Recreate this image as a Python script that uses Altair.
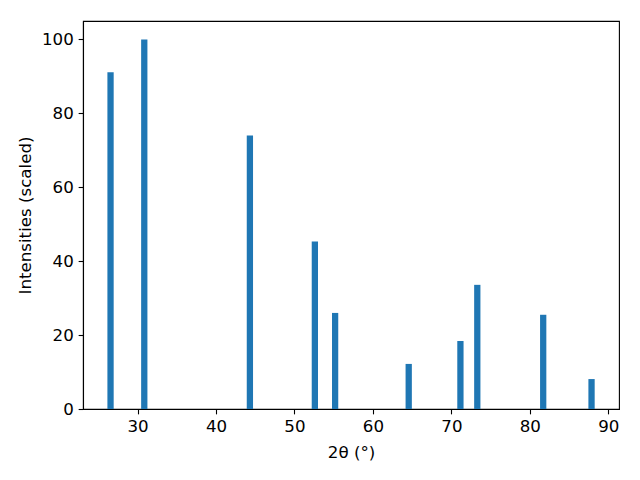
import altair as alt
import pandas as pd

# Peak positions (2θ, degrees) and scaled intensities
two_theta = [26.56, 30.86, 44.32, 52.60, 55.18, 64.56, 71.15, 73.30, 81.70, 87.86]
intensity = [91.1, 100.0, 74.0, 45.3, 26.0, 12.2, 18.4, 33.6, 25.5, 8.1]
x_ticks = [30, 40, 50, 60, 70, 80, 90]
y_ticks = [0, 20, 40, 60, 80, 100]
bar_width = 0.8

df = pd.DataFrame({"two_theta": two_theta, "intensity": intensity})

chart = (
    alt.Chart(df)
    .transform_calculate(
        x0=f"datum.two_theta - {bar_width / 2}",
        x1=f"datum.two_theta + {bar_width / 2}",
    )
    .mark_rect(color="#1f77b4")
    .encode(
        x=alt.X(
            "x0:Q",
            scale=alt.Scale(domain=[23.05, 91.36], nice=False, zero=False),
            axis=alt.Axis(
                title="2θ (°)",
                values=x_ticks,
                format="d",
                labelFlush=False,
                labelOverlap=False,
                titleX=268,
                titleY=43,
                titleBaseline="middle",
                titleAlign="center",
            ),
        ),
        x2="x1:Q",
        y=alt.Y(
            "intensity:Q",
            scale=alt.Scale(domain=[0, 105], nice=False, zero=True),
            axis=alt.Axis(
                title="Intensities (scaled)",
                values=y_ticks,
                format="d",
                labelFlush=False,
                labelOverlap=False,
                titleX=-58,
                titleY=194,
                titleAngle=-90,
                titleBaseline="middle",
                titleAlign="center",
            ),
        ),
        y2=alt.datum(0),
    )
    .properties(
        width=536,
        height=388,
        autosize=alt.AutoSizeParams(type="none"),
        padding={"left": 75, "top": 13, "right": 13, "bottom": 63},
        background="white",
    )
    .configure_view(stroke="black", strokeWidth=1.1)
    .configure_axis(
        labelFont="DejaVu Sans",
        labelFontSize=16.67,
        titleFont="DejaVu Sans",
        titleFontSize=16.67,
        titleFontWeight="normal",
        labelColor="black",
        titleColor="black",
        tickColor="black",
        domainColor="black",
        tickSize=4.86,
        tickWidth=1.1,
        domainWidth=1.1,
        labelPadding=4.86,
        grid=False,
    )
)

chart.save("out.html", embed_options={"renderer": "svg", "actions": False})
